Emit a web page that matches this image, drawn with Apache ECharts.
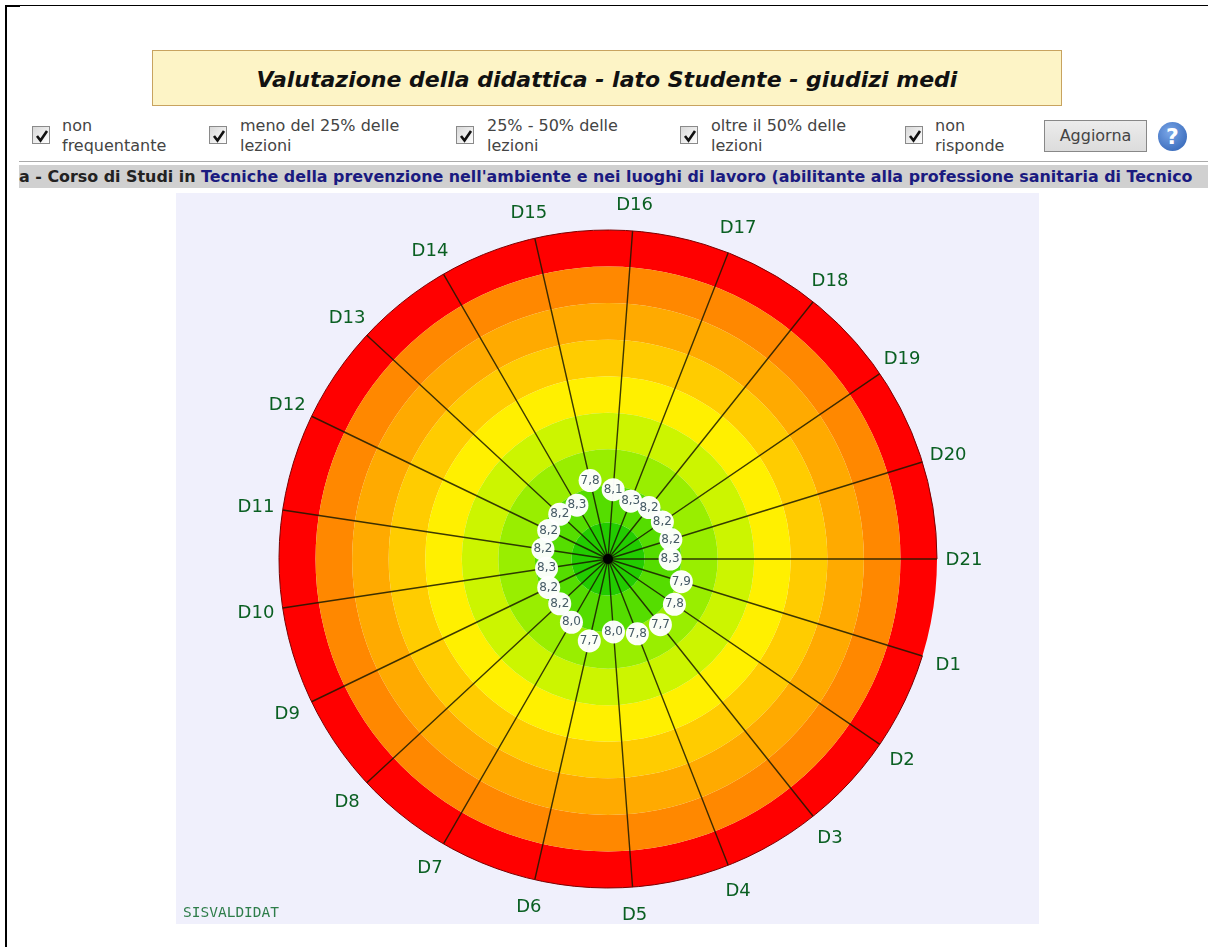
<!DOCTYPE html>
<html><head><meta charset="utf-8">
<style>
html,body{margin:0;padding:0;background:#fff;width:1208px;height:947px;overflow:hidden;font-family:"DejaVu Sans",Verdana,sans-serif}
.abs{position:absolute}
#chart{position:absolute;left:0;top:0;width:1208px;height:947px}
.cb{position:absolute;width:18px;height:18px;border:1px solid #8a8a8a;background:linear-gradient(135deg,#d8d8d8,#fff);box-sizing:border-box}
.cb svg{position:absolute;left:1px;top:1px}
.lg{position:absolute;font-size:16px;line-height:20px;color:#444;white-space:nowrap}
</style></head><body>
<div class="abs" style="left:5px;top:5px;width:1203px;height:1px;background:#000"></div>
<div class="abs" style="left:5px;top:5px;width:15px;height:2px;background:#000"></div>
<div class="abs" style="left:5px;top:5px;width:2px;height:942px;background:#000"></div>
<div class="abs" style="left:152px;top:50px;width:910px;height:56px;box-sizing:border-box;background:#fdf4c6;border:1px solid #c8a35f;text-align:center;font:italic bold 22px/58px 'DejaVu Sans';color:#111">Valutazione della didattica - lato Studente - giudizi medi</div>
<div class="abs" style="left:19px;top:161px;width:1189px;height:1px;background:#aaa"></div>
<div class="abs" style="left:19px;top:165px;width:1189px;height:23px;background:#d0d0d0;overflow:hidden;white-space:nowrap;font:bold 15.9px/23px 'DejaVu Sans';color:#222">a - Corso di Studi in <span style="color:#1a1a80">Tecniche della prevenzione nell'ambiente e nei luoghi di lavoro (abilitante alla professione sanitaria di Tecnico</span></div>
<div id="legend"></div>
<div class="abs" style="left:1044px;top:120px;width:103px;height:32px;box-sizing:border-box;background:linear-gradient(#ececec,#dcdcdc);border:1px solid #888;text-align:center;font:16px/29px 'DejaVu Sans';color:#444">Aggiorna</div>
<div class="abs" style="left:1158px;top:122px;width:29px;height:29px;border-radius:50%;background:radial-gradient(circle at 40% 35%,#7aa6e8,#2a5db0);color:#fff;text-align:center;font:bold 22px/29px 'DejaVu Sans'">?</div>
<div class="abs" style="left:176px;top:193px;width:863px;height:731px;background:#f0f0fc"></div>
<div id="chart"></div>
<script src="https://cdn.jsdelivr.net/npm/echarts@6/dist/echarts.min.js"></script>
<script>
const categories = ['D1','D2','D3','D4','D5','D6','D7','D8','D9','D10','D11','D12','D13','D14','D15','D16','D17','D18','D19','D20','D21'];
const scores = [7.9,7.8,7.7,7.8,8.0,7.7,8.0,8.2,8.2,8.3,8.2,8.2,8.2,8.3,7.8,8.1,8.3,8.2,8.2,8.2,8.3];
const ringColors = ['#ff0000','#ff8800','#ffaa00','#ffcc00','#fff000','#ccf500','#99ee00','#55dd00','#22cc00'];
const legendItems = [
 {x:32,tx:62,l:['non','frequentante']},
 {x:209,tx:240,l:['meno del 25% delle','lezioni']},
 {x:456,tx:487,l:['25% - 50% delle','lezioni']},
 {x:680,tx:711,l:['oltre il 50% delle','lezioni']},
 {x:905,tx:935,l:['non','risponde']}
];
document.getElementById('legend').innerHTML = legendItems.map(i =>
 `<div class="cb" style="left:${i.x}px;top:126px"><svg width="16" height="16" viewBox="0 0 16 16"><path d="M3 8 L6.5 12.5 L13 3" fill="none" stroke="#111" stroke-width="2.6"/></svg></div>
  <div class="lg" style="left:${i.tx}px;top:116px">${i.l.join('<br>')}</div>`).join('');
const chart = echarts.init(document.getElementById('chart'));
const center = [608,559];
const step = 360/categories.length;
chart.setOption({
 animation:false,
 graphic:[{type:'text',left:183,top:906,style:{text:'SISVALDIDAT',fill:'#2e7d4a',font:'14.5px "DejaVu Sans Mono"'}}],
 polar:[{center,radius:329},{center,radius:356}],
 radiusAxis:[
  {polarIndex:0,type:'value',inverse:true,min:1,max:10,interval:1,
   axisLine:{show:false},axisTick:{show:false},axisLabel:{show:false},
   splitLine:{show:false},splitArea:{show:true,areaStyle:{color:ringColors,opacity:1}}},
  {polarIndex:1,type:'value',min:0,max:1,show:false}
 ],
 angleAxis:[
  {polarIndex:0,type:'category',data:categories,boundaryGap:false,startAngle:-step,clockwise:true,
   axisLine:{show:true,lineStyle:{color:'#7a0000',width:1}},axisTick:{show:false},axisLabel:{show:false},
   splitLine:{show:true,lineStyle:{color:'#1a1a00',width:1.4,opacity:.85}},splitArea:{show:false}},
  {polarIndex:1,type:'category',data:categories,boundaryGap:false,startAngle:-step,clockwise:true,show:false}
 ],
 series:[
  {type:'line',coordinateSystem:'polar',polarIndex:0,data:[10],symbol:'circle',symbolSize:10,itemStyle:{color:'#000'},lineStyle:{width:0},silent:true,clip:false,z:3},
  {type:'line',coordinateSystem:'polar',polarIndex:0,data:scores,symbol:'circle',symbolSize:23,lineStyle:{width:0},itemStyle:{color:'#fff',opacity:.97},showAllSymbol:true,clip:false,z:4,
   label:{show:true,position:'inside',fontSize:12,color:'#3f5560',fontFamily:'DejaVu Sans',
    formatter:p=>p.value.toFixed(1).replace('.',',')}},
  {type:'line',coordinateSystem:'polar',polarIndex:1,data:categories.map(()=>1),symbol:'circle',symbolSize:1,showAllSymbol:true,itemStyle:{color:'transparent'},lineStyle:{width:0},clip:false,z:5,
   label:{show:true,position:'inside',offset:[0,1],fontSize:18,color:'#0a5f22',fontFamily:'DejaVu Sans',formatter:p=>categories[p.dataIndex]}}
 ]
});
</script></body></html>
